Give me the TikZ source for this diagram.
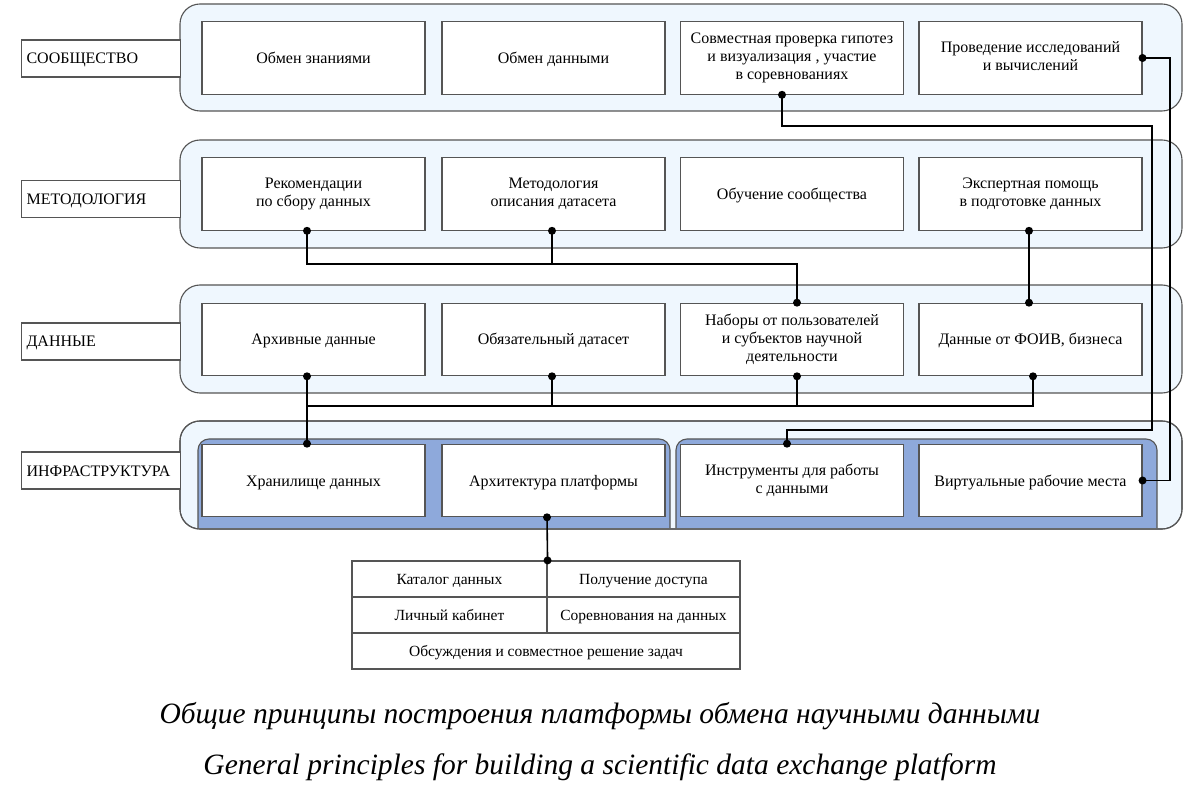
\documentclass[tikz,border=0pt]{standalone}
\usepackage{fontspec}
\setmainfont{Liberation Serif}
\definecolor{bandfill}{RGB}{239,247,254}
\definecolor{panelfill}{RGB}{142,169,219}
\definecolor{edge}{RGB}{85,85,85}
\newcommand{\mystrut}{\rule[-4pt]{0pt}{19pt}}
\begin{document}
\begin{tikzpicture}[x=1pt,y=-1pt,
  band/.style={draw=edge,fill=bandfill,line width=1.1pt,rounded corners=20pt},
  panel/.style={draw=edge,fill=panelfill,line width=1.1pt,rounded corners=11pt},
  strutted/.style={execute at begin node={\mystrut},execute at end node={\mystrut}},
  cell/.style={strutted,draw=edge,fill=white,line width=1.1pt,minimum width=223pt,minimum height=72.5pt,
    inner sep=2pt,align=center,font=\fontsize{16}{18}\selectfont},
  lab/.style={strutted,draw=edge,fill=white,line width=1.1pt,anchor=west,inner xsep=5pt,inner ysep=0pt,
    text width=149pt,minimum height=37pt,align=left,font=\fontsize{16}{18}\selectfont},
  tcell/.style={draw=edge,line width=1.1pt,minimum height=36pt,inner sep=0pt,align=center,
    text height=14pt,text depth=4pt,font=\fontsize{15.5}{18}\selectfont},
  conn/.style={draw=black,line width=1.6pt},
  dot/.style={fill=black},
  captext/.style={font=\fontsize{29.5}{32}\selectfont\itshape}]
\useasboundingbox (0,0) rectangle (1200,791);
\fill[white] (0,0) rectangle (1200,791);
% bands
\path[band] (180,4) rectangle (1182,111);
\path[band] (180,140) rectangle (1182,248);
\path[band] (180,285) rectangle (1182,393);
\path[band] (180,421) rectangle (1182,529);
% infrastructure panels
\path[panel] (198,528) -- (198,439) -- (670,439) -- (670,528);
\path[panel] (676,528) -- (676,439) -- (1157,439) -- (1157,528);
\draw[edge,line width=1.1pt,rounded corners=20pt] (180,421) rectangle (1182,529);
% left labels
\node[lab] (l1) at (21,58.5) {СООБЩЕСТВО};
\node[lab] (l2) at (21,199) {МЕТОДОЛОГИЯ};
\node[lab] (l3) at (21,341.5) {ДАННЫЕ};
\node[lab] (l4) at (21,470.5) {ИНФРАСТРУКТУРА};
% row 1
\node[cell] (b11) at (313.5,58) {Обмен знаниями};
\node[cell] (b12) at (553.5,58) {Обмен данными};
\node[cell] (b13) at (792,58) {Совместная проверка гипотез\\и визуализация , участие\\в соревнованиях};
\node[cell] (b14) at (1030.5,58) {Проведение исследований\\и вычислений};
% row 2
\node[cell] (b21) at (313.5,194) {Рекомендации\\по сбору данных};
\node[cell] (b22) at (553.5,194) {Методология\\описания датасета};
\node[cell] (b23) at (792,194) {Обучение сообщества};
\node[cell] (b24) at (1030.5,194) {Экспертная помощь\\в подготовке данных};
% row 3
\node[cell] (b31) at (313.5,339.5) {Архивные данные};
\node[cell] (b32) at (553.5,339.5) {Обязательный датасет};
\node[cell] (b33) at (792,339.5) {Наборы от пользователей\\и субъектов научной\\деятельности};
\node[cell] (b34) at (1030.5,339.5) {Данные от ФОИВ, бизнеса};
% row 4
\node[cell] (b41) at (313.5,480.5) {Хранилище данных};
\node[cell] (b42) at (553.5,480.5) {Архитектура платформы};
\node[cell] (b43) at (792,480.5) {Инструменты для работы\\с данными};
\node[cell] (b44) at (1030.5,480.5) {Виртуальные рабочие места};
% table
\node[tcell,minimum width=195pt] (t11) at (449.5,579) {Каталог данных};
\node[tcell,minimum width=193pt] (t12) at (643.5,579) {Получение доступа};
\node[tcell,minimum width=195pt] (t21) at (449.5,615) {Личный кабинет};
\node[tcell,minimum width=193pt] (t22) at (643.5,615) {Соревнования на данных};
\node[tcell,minimum width=388pt] (t3) at (546,651) {Обсуждения и совместное решение задач};
% connector endpoints
\coordinate (a1) at ([xshift=-10pt]b13.south);
\coordinate (a2) at ([xshift=-5pt]b43.north);
\coordinate (c1) at ([xshift=-6.5pt]b21.south);
\coordinate (c2) at ([xshift=-1.5pt]b22.south);
\coordinate (c3) at ([xshift=5pt]b33.north);
\coordinate (e1) at ([xshift=-1.5pt]b24.south);
\coordinate (e2) at ([xshift=-1.5pt]b34.north);
\coordinate (d1) at ([xshift=-6.5pt]b31.south);
\coordinate (d2) at ([xshift=-1.5pt]b32.south);
\coordinate (d3) at ([xshift=5pt]b33.south);
\coordinate (d4) at ([xshift=2.5pt]b34.south);
\coordinate (d5) at ([xshift=-6.5pt]b41.north);
\coordinate (f1) at ([xshift=-6.5pt]b42.south);
\coordinate (f2) at (t11.north east);
% connectors
\draw[conn] (a1) -- (a1 |- 0,126) -- (1152,126) -- (1152,430) -- (a2 |- 0,430) -- (a2);
\draw[conn] (b14.east) -- (1170,58) -- (1170,480.5) -- (b44.east);
\draw[conn] (c1) -- (c1 |- 0,264) -- (c3 |- 0,264) -- (c3);
\draw[conn] (c2) -- (c2 |- 0,264);
\draw[conn] (e1) -- (e2);
\draw[conn] (d1) -- (d5);
\draw[conn] (d1 |- 0,406) -- (d4 |- 0,406) -- (d4);
\draw[conn] (d2) -- (d2 |- 0,406);
\draw[conn] (d3) -- (d3 |- 0,406);
\draw[conn] (f1) -- (f2);
% dots
\foreach \p in {a1,a2,c1,c2,c3,e1,e2,d1,d2,d3,d4,d5,f1,f2,b14.east,b44.east}
  \fill[dot] (\p) circle (4pt);
% captions
\node[captext] (cap1) at (600,716) {Общие принципы построения платформы обмена научными данными};
\node[captext] (cap2) at (600,767) {General principles for building a scientific data exchange platform};
\end{tikzpicture}
\end{document}
